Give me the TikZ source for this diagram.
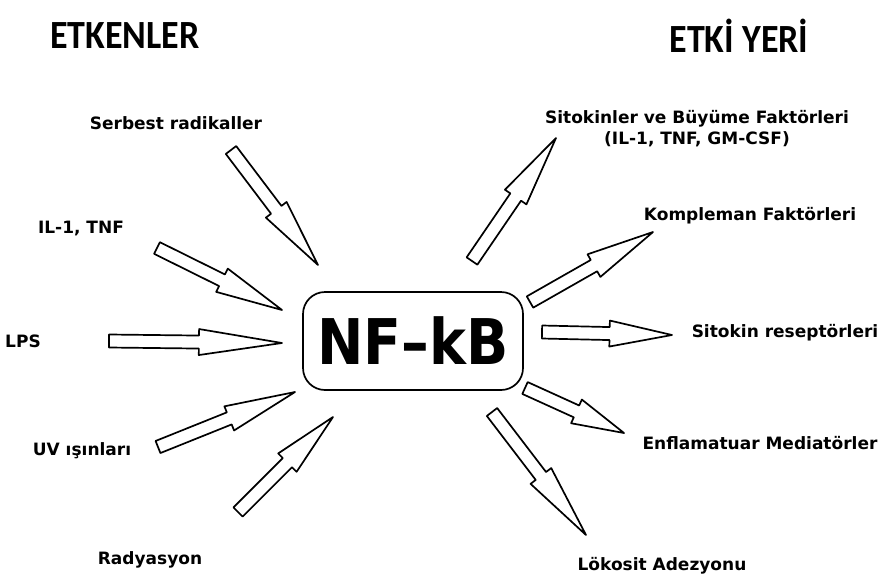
\documentclass[tikz,border=0pt]{standalone}
\usepackage{fontspec}
\setmainfont{DejaVu Sans}
\newfontfamily\titlefont{Carlito}
\usetikzlibrary{calc}

\tikzset{
  lbl/.style={font=\fontsize{17}{21}\selectfont\bfseries, align=center, inner sep=0pt},
  ttl/.style={font=\titlefont\fontsize{40}{44}\selectfont\bfseries, inner sep=0pt},
  blk/.style={draw, fill=white, line width=1.7pt, line join=round}
}

% hollow block arrow from tail #1 to tip #2
\newcommand{\blockarrow}[2]{%
  \path (#1) -- (#2) coordinate[pos=0.52] (hb);
  \draw[blk] ($(#1)!6.5pt!90:(#2)$) -- ($(hb)!6.5pt!90:(#2)$)
    -- ($(hb)!13pt!90:(#2)$) -- (#2) -- ($(hb)!13pt!-90:(#2)$)
    -- ($(hb)!6.5pt!-90:(#2)$) -- ($(#1)!6.5pt!-90:(#2)$) -- cycle;
}

\begin{document}
\begin{tikzpicture}[x=1pt, y=-1pt]
  \useasboundingbox (0,0) rectangle (885,581);

  % --- Titles ---
  \node[ttl] (etken) at (125,36) {\scalebox{0.9}[1]{ETKENLER}};
  \node[ttl] (yer) at (739,36) {\scalebox{0.9}[1]{ETKİ YERİ}};

  % --- Center ---
  \node[draw, line width=1.7pt, rounded corners=22pt, minimum width=220pt,
        minimum height=98pt, inner sep=0pt] (nf) at (413,341)
        {\fontsize{63}{66}\selectfont\bfseries\scalebox{0.88}[1]{NF–kB}};

  % --- Left: inputs ---
  \node[lbl] (sr) at (176,123) {Serbest radikaller};
  \node[lbl] (il) at (81,229) {IL-1, TNF};
  \node[lbl] (lps) at (23,341) {LPS};
  \node[lbl] (uv) at (82,451) {UV ışınları};
  \node[lbl] (rad) at (150,560) {Radyasyon};

  % --- Right: targets ---
  \node[lbl] (sit) at (697,129) {Sitokinler ve Büyüme Faktörleri\\(IL-1, TNF, GM-CSF)};
  \node[lbl] (komp) at (750,216) {Kompleman Faktörleri};
  \node[lbl] (res) at (785,333) {Sitokin reseptörleri};
  \node[lbl] (enf) at (760,443) {Enflamatuar Mediatörler};
  \node[lbl] (lok) at (662,566) {Lökosit Adezyonu};

  % arrow ends
  \coordinate (sr-s) at (231,150);  \coordinate (sr-t) at (318,265);
  \coordinate (il-s) at (157,248);  \coordinate (il-t) at (282,310);
  \coordinate (lps-s) at (109,341); \coordinate (lps-t) at (282,343);
  \coordinate (uv-s) at (158,447);  \coordinate (uv-t) at (295,392);
  \coordinate (rad-s) at (238,512); \coordinate (rad-t) at (333,417);
  \coordinate (sit-s) at (472,261); \coordinate (sit-t) at (556,138);
  \coordinate (komp-s) at (530,302); \coordinate (komp-t) at (653,232);
  \coordinate (res-s) at (542,332); \coordinate (res-t) at (672,335);
  \coordinate (enf-s) at (525,388); \coordinate (enf-t) at (624,433);
  \coordinate (lok-s) at (492,412); \coordinate (lok-t) at (586,535);

  \foreach \a in {sr,il,lps,uv,rad,sit,komp,res,enf,lok}
    {\blockarrow{\a-s}{\a-t}}
\end{tikzpicture}
\end{document}
